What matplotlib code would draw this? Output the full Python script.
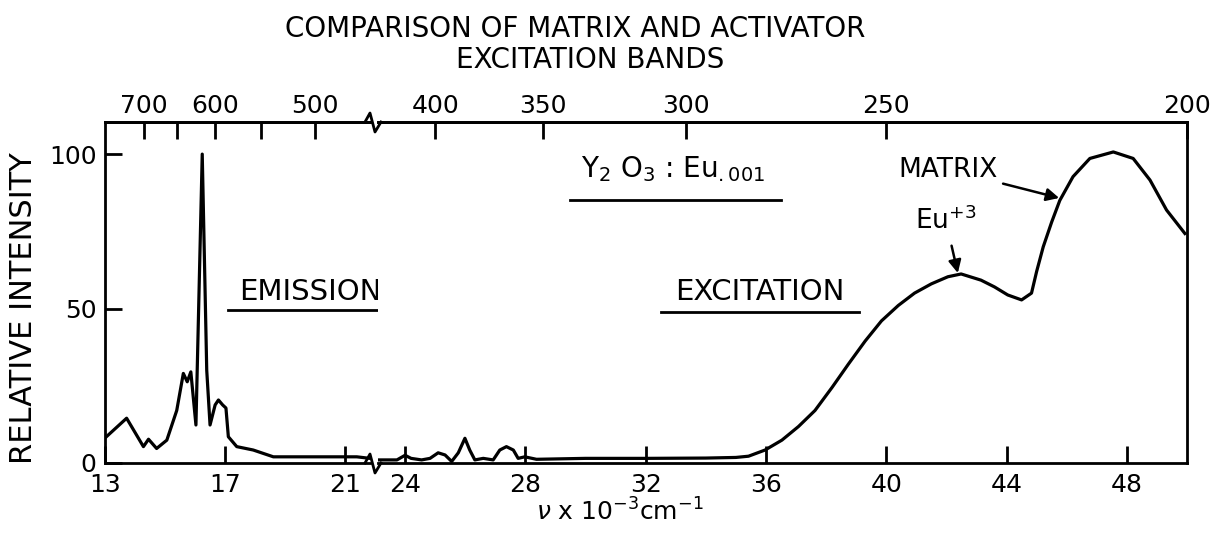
import matplotlib
matplotlib.use("Agg")
import matplotlib.pyplot as plt
from matplotlib.lines import Line2D

plt.rcParams['mathtext.default'] = 'regular'

# emission spectrum (left part of broken axis), nu in 10^3 cm^-1
emission_nu = [13.0, 13.72, 14.28, 14.45, 14.72, 15.06, 15.39, 15.61, 15.74, 15.86,
               16.03, 16.24, 16.39, 16.5, 16.67, 16.78, 16.92, 17.03, 17.11, 17.39,
               17.94, 18.61, 19.5, 21.39, 21.83]
emission_int = [8.1, 14.5, 5.3, 7.7, 4.7, 7.4, 17, 29, 26.3, 29.5,
                12.3, 100, 30, 12.3, 18.8, 20.4, 18.8, 17.8, 8.5, 5.3,
                4.2, 2.0, 2.0, 2.0, 1.5]

# excitation spectrum (right part)
excitation_nu = [23.1, 23.73, 24.0, 24.2, 24.55, 24.83, 25.1, 25.33, 25.55, 25.77,
                 25.99, 26.15, 26.32, 26.6, 26.93, 27.15, 27.37, 27.6, 27.76, 27.98,
                 28.37, 30.0, 32.0, 34.0, 35.0, 35.42, 35.97, 36.53, 37.08, 37.63,
                 38.2, 38.74, 39.3, 39.84, 40.4, 40.94, 41.5, 42.05, 42.49, 43.15,
                 43.6, 44.04, 44.5, 44.83, 45.0, 45.22, 45.5, 45.77, 46.21, 46.77,
                 47.55, 48.21, 48.77, 49.32, 49.93]
excitation_int = [1.0, 1.0, 2.5, 1.5, 1.0, 1.5, 3.3, 2.6, 0.5, 3.3,
                  8.0, 4.2, 1.0, 1.5, 1.0, 4.2, 5.3, 4.2, 1.5, 2.0,
                  1.2, 1.5, 1.5, 1.6, 1.8, 2.2, 4.2, 7.4, 11.8, 17,
                  24.5, 32, 39.5, 46, 51, 55, 58, 60.3, 61.2, 59.2,
                  57, 54.4, 52.8, 55, 62, 70, 78, 85, 92.7, 98.6,
                  100.7, 98.6, 91.6, 81.9, 74.3]

left_ticks = [13, 17, 21]
right_ticks = [24, 28, 32, 36, 40, 44, 48]
y_ticks = [0, 50, 100]
left_wl = [700, 600, 500]
left_wl_minor = [650, 550]
right_wl = [400, 350, 300, 250, 200]

W, H = 1214, 541
fig = plt.figure(figsize=(W / 100, H / 100), dpi=100)
ax1 = fig.add_axes([105 / W, 1 - 463 / H, (370 - 105) / W, (463 - 122) / H])
ax2 = fig.add_axes([378 / W, 1 - 463 / H, (1187 - 378) / W, (463 - 122) / H])

lw = 2.3
for ax in (ax1, ax2):
    ax.set_ylim(0, 110.4)
    for s in ax.spines.values():
        s.set_linewidth(2)
    ax.tick_params(axis='both', direction='in', length=12, width=2, labelsize=18, pad=7)

ax1.plot(emission_nu, emission_int, color='black', lw=lw)
ax2.plot(excitation_nu, excitation_int, color='black', lw=lw)

ax1.set_xlim(13, 21.83)
ax2.set_xlim(23.1, 50)
ax1.set_xticks(left_ticks)
ax2.set_xticks(right_ticks)
ax1.set_yticks(y_ticks)
ax1.tick_params(axis='y', pad=6)
ax2.set_yticks([])
ax1.spines['right'].set_visible(False)
ax2.spines['left'].set_visible(False)

# wavelength (nm) scale on top
conv = (lambda v: 1e4 / v, lambda l: 1e4 / l)
for ax, wl, minor in ((ax1, left_wl, left_wl_minor), (ax2, right_wl, [])):
    sec = ax.secondary_xaxis('top', functions=conv)
    sec.set_xticks(wl)
    sec.set_xticks(minor, minor=True)
    sec.tick_params(which='both', direction='in', length=12, width=2, labelsize=18, pad=3)
    sec.spines['top'].set_linewidth(2)

# break marks
for yb in (122, 463):
    xs = [365, 370, 375, 381]
    ys = [yb, yb - 9, yb + 10, yb]
    fig.add_artist(Line2D([x / W for x in xs], [1 - y / H for y in ys], color='black', lw=2))

# labels inside plot
ax1.text(19.85, 55.5, 'EMISSION', fontsize=21, ha='center', va='center', clip_on=False)
ax1.plot([17.1, 22.7], [49.6, 49.6], color='black', lw=2, clip_on=False)
ax2.text(35.8, 55.5, 'EXCITATION', fontsize=21, ha='center', va='center')
ax2.plot([32.5, 39.1], [48.8, 48.8], color='black', lw=2)
ax2.text(32.9, 95, r'Y$_2$ O$_3$ : Eu$_{{.}001}$', fontsize=20, ha='center', va='center')
ax2.plot([29.5, 36.5], [85.2, 85.2], color='black', lw=2)
ax2.annotate('MATRIX', xy=(45.75, 85.8), xytext=(42.05, 95), fontsize=19,
             ha='center', va='center',
             arrowprops=dict(arrowstyle='-|>', color='black', lw=1.8, shrinkA=2, shrinkB=0))
ax2.annotate(r'Eu$^{+3}$', xy=(42.38, 61.5), xytext=(41.98, 78.5), fontsize=19,
             ha='center', va='center',
             arrowprops=dict(arrowstyle='-|>', color='black', lw=1.8, shrinkA=6, shrinkB=0))

fig.text(24 / W, 1 - 308 / H, 'RELATIVE INTENSITY', rotation=90, fontsize=22,
         ha='center', va='center')
fig.text(620 / W, 1 - 512 / H, r'$\mathit{\nu}$ x 10$^{-3}$cm$^{-1}$', fontsize=18,
         ha='center', va='center')

fig.text(575 / W, 1 - 29 / H, 'COMPARISON OF MATRIX AND ACTIVATOR', fontsize=20,
         ha='center', va='center')
fig.text(590 / W, 1 - 60 / H, 'EXCITATION BANDS', fontsize=20,
         ha='center', va='center')

fig.savefig('out.png', dpi=100)
